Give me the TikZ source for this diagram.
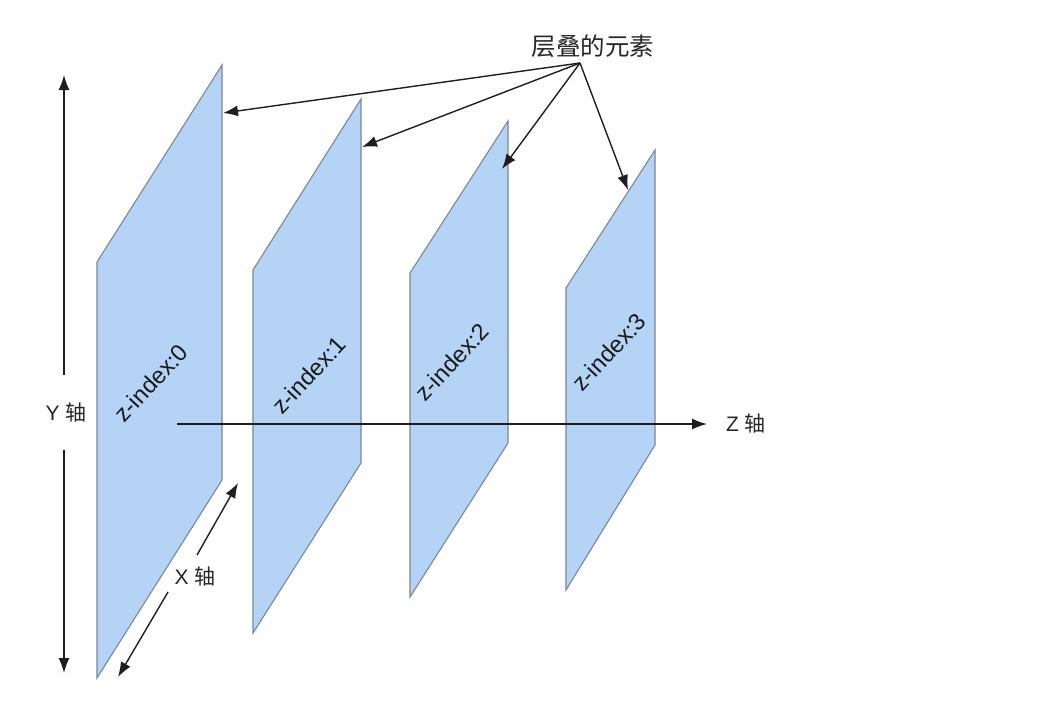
\documentclass[tikz,border=0pt]{standalone}
\usepackage{fontspec}
\setmainfont{Liberation Sans}
\newfontfamily\cjk{Noto Sans CJK SC}
\usetikzlibrary{arrows.meta}
\definecolor{PlaneBlue}{RGB}{180,211,245}
\definecolor{PlaneEdge}{RGB}{120,135,155}
\definecolor{AxisGray}{RGB}{30,30,30}

\begin{document}
\begin{tikzpicture}[
    x=1pt, y=-1pt,
    plane/.style={
        fill=PlaneBlue,
        draw=PlaneEdge,
        line width=1.1pt
    },
    arrow/.style={
        -{Latex[length=15pt,width=11pt]},
        draw=AxisGray,
        line width=1.4pt
    },
    layertext/.style={
        rotate=47,
        inner sep=1pt,
        text=black!90,
        font=\fontsize{23.5}{27}\selectfont
    },
    axislabel/.style={
        inner sep=0pt,
        text=black!85,
        font=\fontsize{21}{25}\selectfont
    }
]
\useasboundingbox (0,0) rectangle (1037,710);

% the four layers
\draw[plane] (97,262) -- (222,65) -- (222,480) -- (97,678) -- cycle;
\draw[plane] (253,270) -- (361,99) -- (361,463) -- (253,633) -- cycle;
\draw[plane] (410,273) -- (508,121) -- (508,443) -- (410,597) -- cycle;
\draw[plane] (566,288) -- (655,150) -- (655,445) -- (566,590) -- cycle;

\node[layertext] (layer0) at (151,383) {z-index:0};
\node[layertext] (layer1) at (309,375) {z-index:1};
\node[layertext] (layer2) at (452,362) {z-index:2};
\node[layertext] (layer3) at (609,352) {z-index:3};

% Z axis
\coordinate (zstart) at (177,424);
\node[axislabel, anchor=west] (zlabel) at (726,424) {Z {\cjk 轴}};
\draw[arrow] (zstart) -- ([xshift=-19pt]zlabel.west);

% Y axis
\node[axislabel, minimum height=75pt] (ylabel) at (66,412.5) {Y {\cjk 轴}};
\coordinate (ytop) at (64,75);
\coordinate (ybottom) at (64,673);
\draw[arrow] (ylabel.north -| ytop) -- (ytop);
\draw[arrow] (ylabel.south -| ybottom) -- (ybottom);

% X axis
\node[axislabel] (xlabel) at (195,577) {X {\cjk 轴}};
\coordinate (xtop) at (238,483);
\coordinate (xtopgap) at (197,555);
\coordinate (xbottomgap) at (168,592);
\coordinate (xbottom) at (118,677);
\draw[arrow] (xtopgap) -- (xtop);
\draw[arrow] (xbottomgap) -- (xbottom);

% stacked elements
\node[axislabel, font=\cjk\fontsize{24.5}{28}\selectfont] (elements) at (593,46) {层叠的元素};
\coordinate (src) at (580,63);
\coordinate (tip0) at (223,113);
\coordinate (tip1) at (362,147);
\coordinate (tip2) at (502,169);
\coordinate (tip3) at (628,190);
\draw[arrow] (src) -- (tip0);
\draw[arrow] (src) -- (tip1);
\draw[arrow] (src) -- (tip2);
\draw[arrow] (src) -- (tip3);

\end{tikzpicture}
\end{document}
